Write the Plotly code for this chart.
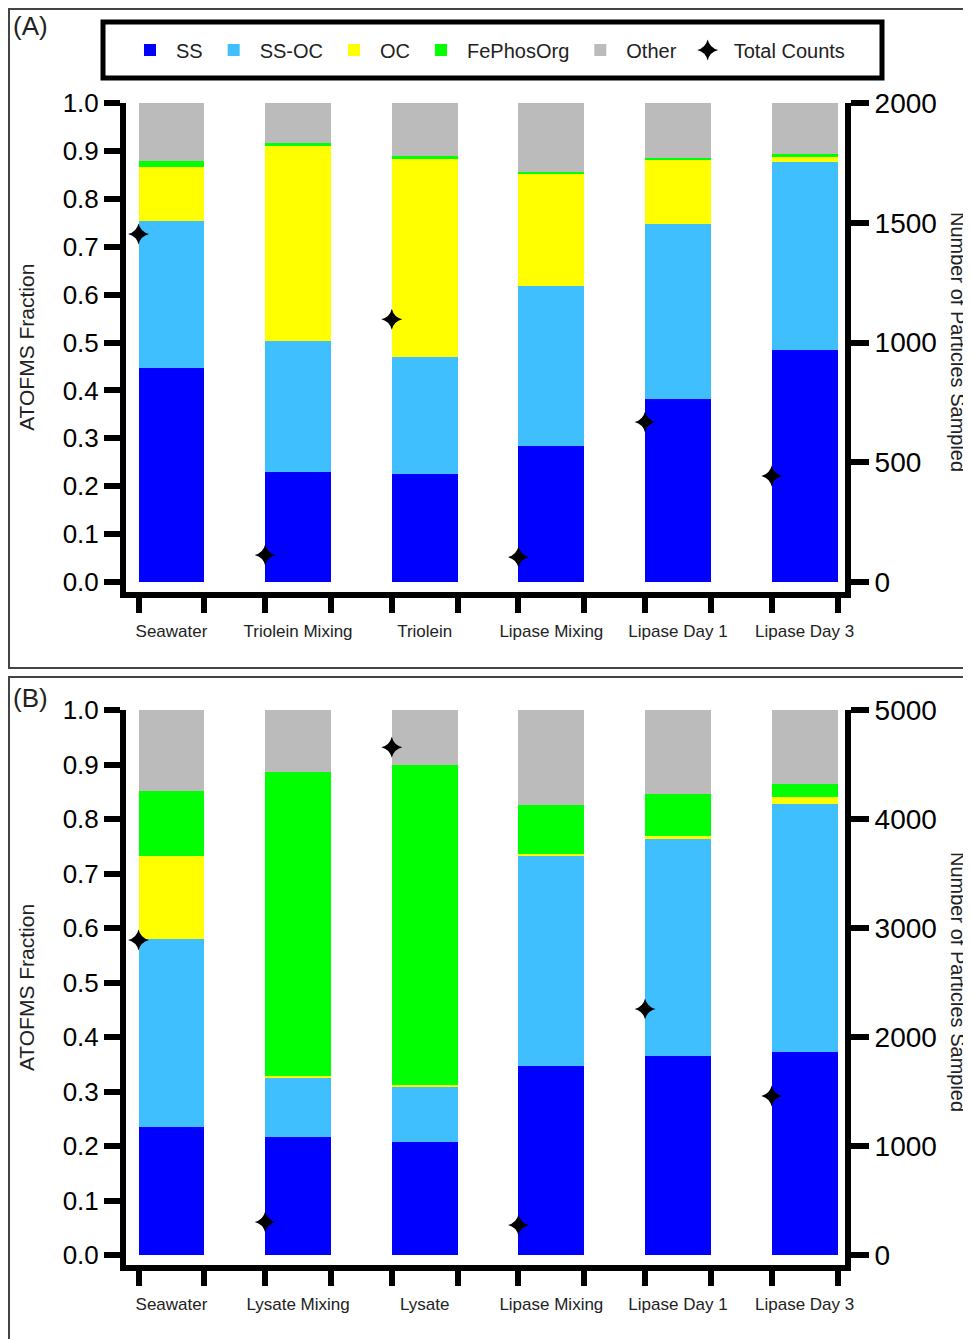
import plotly.graph_objects as go

# ---------------- data ----------------
series_names = ["SS", "SS-OC", "OC", "FePhosOrg", "Other"]
series_colors = ["#0000FF", "#40BFFF", "#FFFF00", "#00FF00", "#BBBBBB"]

cats_a = ["Seawater", "Triolein Mixing", "Triolein", "Lipase Mixing", "Lipase Day 1", "Lipase Day 3"]
ss_a = [0.447, 0.230, 0.225, 0.284, 0.382, 0.484]
ssoc_a = [0.307, 0.274, 0.245, 0.333, 0.366, 0.393]
oc_a = [0.112, 0.408, 0.415, 0.236, 0.132, 0.012]
fe_a = [0.013, 0.004, 0.004, 0.004, 0.005, 0.004]
other_a = [0.121, 0.084, 0.111, 0.143, 0.115, 0.107]
counts_a = [1453, 113, 1097, 104, 668, 443]

cats_b = ["Seawater", "Lysate Mixing", "Lysate", "Lipase Mixing", "Lipase Day 1", "Lipase Day 3"]
ss_b = [0.235, 0.217, 0.207, 0.347, 0.365, 0.372]
ssoc_b = [0.344, 0.108, 0.101, 0.385, 0.398, 0.456]
oc_b = [0.154, 0.003, 0.004, 0.004, 0.006, 0.012]
fe_b = [0.118, 0.559, 0.588, 0.090, 0.076, 0.025]
other_b = [0.149, 0.113, 0.100, 0.174, 0.155, 0.135]
counts_b = [2890, 303, 4658, 275, 2257, 1459]

left_ticks = [0.0, 0.1, 0.2, 0.3, 0.4, 0.5, 0.6, 0.7, 0.8, 0.9, 1.0]
right_ticks_a = [0, 500, 1000, 1500, 2000]
right_ticks_b = [0, 1000, 2000, 3000, 4000, 5000]

# ---------------- layout helpers ----------------
PAGE_OFF = 8            # default body margin of the html page
W, H = 971 - PAGE_OFF, 1339 - PAGE_OFF
FONT = "Liberation Sans, Arial, sans-serif"
BAR_W = 0.52
pos = list(range(len(cats_a)))
edges = sorted([p - BAR_W / 2 for p in pos] + [p + BAR_W / 2 for p in pos])
star_x = [p - BAR_W / 2 for p in pos]


def px_x(v):
    return (v - PAGE_OFF) / W


def px_y(v):
    return 1 - (v - PAGE_OFF) / H


fig = go.Figure()

panels = [
    dict(x="x", y="y", y2="y2", xl="x3", data=[ss_a, ssoc_a, oc_a, fe_a, other_a], counts=counts_a, legend=True),
    dict(x="x2", y="y3", y2="y4", xl="x4", data=[ss_b, ssoc_b, oc_b, fe_b, other_b], counts=counts_b, legend=False),
]

for p in panels:
    for name, col, vals in zip(series_names, series_colors, p["data"]):
        fig.add_trace(go.Bar(
            x=pos, y=vals, name=name, width=BAR_W,
            marker=dict(color=col, line=dict(width=0)),
            xaxis=p["x"], yaxis=p["y"], showlegend=p["legend"],
        ))
    fig.add_trace(go.Scatter(
        x=star_x, y=p["counts"], name="Total Counts", mode="markers",
        marker=dict(symbol="star-diamond", size=15, color="black"),
        xaxis=p["x"], yaxis=p["y2"], showlegend=p["legend"],
    ))
    # invisible carrier so the category-label axis gets drawn
    fig.add_trace(go.Scatter(
        x=pos, y=[0] * len(pos), mode="markers", marker=dict(opacity=0),
        xaxis=p["xl"], yaxis=p["y"], showlegend=False, hoverinfo="skip",
    ))

x0, x1 = px_x(126), px_x(845)
xrange_ = [-0.359, 5.319]
dom_a = [px_y(591.5), px_y(103)]
dom_b = [px_y(1265), px_y(710)]

common_x = dict(range=xrange_, showgrid=False, zeroline=False, showline=True,
                linecolor="black", linewidth=6, ticks="outside", ticklen=15,
                tickwidth=6, tickcolor="black", tickvals=edges,
                ticktext=[""] * len(edges), fixedrange=True)
label_x = dict(range=xrange_, showgrid=False, zeroline=False, showline=False,
               ticks="outside", ticklen=24, tickcolor="rgba(0,0,0,0)",
               tickvals=pos, tickfont=dict(size=17, family=FONT, color="#222"))
left_y = dict(showgrid=False, zeroline=False, showline=True, linecolor="black",
              linewidth=6, ticks="outside", ticklen=16, tickwidth=6,
              tickcolor="black", tickvals=left_ticks, tickformat=".1f",
              tickfont=dict(size=26, family=FONT, color="black"),
              title=dict(text="ATOFMS Fraction", font=dict(size=21, family=FONT, color="#222"),
                         standoff=24))
right_y = dict(showgrid=False, zeroline=False, showline=True, linecolor="black",
               linewidth=6, ticks="outside", ticklen=18, tickwidth=6,
               tickcolor="black", side="right",
               tickfont=dict(size=28, family=FONT, color="black"))

fig.update_layout(
    xaxis=dict(common_x, domain=[x0, x1], anchor="y"),
    xaxis3=dict(label_x, domain=[x0, x1], anchor="y", overlaying="x", ticktext=cats_a),
    yaxis=dict(left_y, domain=dom_a, range=[-0.0198, 1.0], anchor="x"),
    yaxis2=dict(right_y, range=[-39.6, 2000], overlaying="y", anchor="x",
                tickvals=right_ticks_a),
    xaxis2=dict(common_x, domain=[x0, x1], anchor="y3"),
    xaxis4=dict(label_x, domain=[x0, x1], anchor="y3", overlaying="x2", ticktext=cats_b),
    yaxis3=dict(left_y, domain=dom_b, range=[-0.0183, 1.0], anchor="x2"),
    yaxis4=dict(right_y, range=[-91.7, 5000], overlaying="y3", anchor="x2",
                tickvals=right_ticks_b),
)

fig.update_layout(
    template="none",
    width=W, height=H,
    margin=dict(l=0, r=0, t=0, b=0),
    paper_bgcolor="white", plot_bgcolor="rgba(0,0,0,0)",
    barmode="stack", bargap=0,
    font=dict(family=FONT, color="black"),
    legend=dict(orientation="h", x=px_x(487), xanchor="center",
                y=px_y(50), yanchor="middle", itemwidth=42, traceorder="normal",
                font=dict(size=20, family=FONT, color="#222"),
                bgcolor="rgba(0,0,0,0)", borderwidth=0),
    showlegend=True,
)

# panel frames and legend box
fig.add_shape(type="rect", xref="paper", yref="paper",
              x0=px_x(9), x1=px_x(975), y0=px_y(668), y1=px_y(9),
              line=dict(color="#444", width=2))
fig.add_shape(type="rect", xref="paper", yref="paper",
              x0=px_x(9), x1=px_x(975), y0=px_y(1342), y1=px_y(677),
              line=dict(color="#444", width=2))
fig.add_shape(type="rect", xref="paper", yref="paper",
              x0=px_x(103), x1=px_x(882), y0=px_y(78), y1=px_y(22),
              line=dict(color="black", width=5))

# panel letters
for txt, yy in [("(A)", 26), ("(B)", 698)]:
    fig.add_annotation(text=txt, xref="paper", yref="paper", x=px_x(11), y=px_y(yy),
                       xanchor="left", yanchor="middle", showarrow=False,
                       font=dict(size=26, family=FONT, color="#222"))

# right axis titles (reading top-to-bottom)
for yy in [342, 982]:
    fig.add_annotation(text="Number of Particles Sampled", xref="paper", yref="paper",
                       x=px_x(958), y=px_y(yy), xanchor="center", yanchor="middle",
                       textangle=90, showarrow=False,
                       font=dict(size=20, family=FONT, color="#222"))

fig.write_html("out.html")
